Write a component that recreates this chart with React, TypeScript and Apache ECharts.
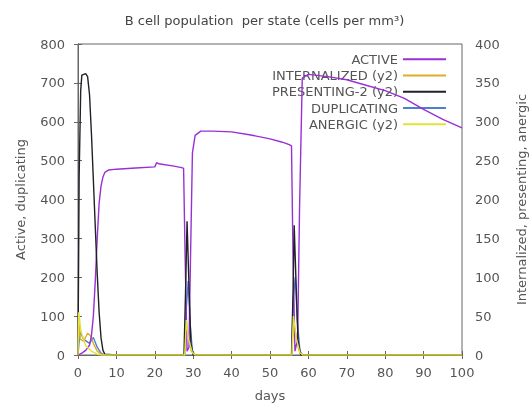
import React, { useEffect, useRef } from "react";
import * as echarts from "echarts";

const titleText = "B cell population  per state (cells per mm³)";
const xTicks = [0, 10, 20, 30, 40, 50, 60, 70, 80, 90, 100];

const activeDays = [0, 1, 2, 3, 3.5, 4, 4.5, 5, 5.5, 6, 6.5, 7, 8, 10, 15, 20, 20.5, 21, 25, 27, 27.5, 27.9, 28.4, 28.9, 29.3, 29.8, 30.5, 32, 35, 40, 45, 50, 53, 55, 55.6, 56, 56.5, 57.2, 57.7, 58.4, 60, 65, 70, 75, 80, 85, 90, 95, 100];
const activeVals = [0, 5, 12, 25, 50, 100, 190, 300, 390, 435, 458, 470, 476, 478, 481, 484, 495, 492, 486, 482, 480, 250, 10, 20, 250, 520, 565, 576, 576, 574, 566, 556, 548, 541, 538, 250, 10, 40, 380, 712, 722, 716, 708, 694, 680, 660, 632, 606, 584];

const internDays = [0, 0.2, 0.6, 1.5, 2.5, 3.2, 4, 5, 6, 7, 27.8, 28.2, 28.8, 29.5, 30.5, 55.7, 56.1, 56.7, 57.5, 58.5, 100];
const internVals = [0, 45, 20, 18, 28, 25, 15, 5, 1, 0, 0, 38, 25, 5, 0, 0, 42, 28, 6, 0, 0];

const presDays = [0, 0.3, 0.7, 1, 2, 2.5, 3, 3.5, 4, 4.5, 5, 5.5, 6, 6.5, 7, 10, 27.6, 28, 28.4, 28.9, 29.4, 30, 55.6, 56, 56.3, 56.8, 57.3, 58, 100];
const presVals = [0, 230, 340, 360, 362, 358, 335, 285, 225, 165, 105, 55, 22, 6, 1, 0, 0, 80, 172, 90, 15, 0, 0, 80, 167, 90, 18, 0, 0];

const dupDays = [0, 0.5, 1.5, 3, 4, 5, 6, 7, 27.8, 28.2, 28.7, 29.2, 29.8, 30.5, 55.7, 56.1, 56.6, 57.1, 57.8, 58.5, 100];
const dupVals = [0, 60, 40, 30, 45, 20, 5, 0, 0, 120, 190, 80, 10, 0, 0, 150, 200, 90, 10, 0, 0];

const anergDays = [0, 0.2, 0.8, 2, 3.5, 5, 6, 27.8, 28.2, 28.8, 29.8, 30.5, 55.7, 56.1, 56.8, 57.8, 58.5, 100];
const anergVals = [0, 55, 30, 12, 5, 1, 0, 0, 45, 20, 3, 0, 0, 50, 22, 3, 0, 0];

const legendNames = ["ACTIVE", "INTERNALIZED (y2)", "PRESENTING-2 (y2)", "DUPLICATING", "ANERGIC (y2)"];

const zip = (xs: number[], ys: number[]) => xs.map((x, i) => [x, ys[i]]);

const FONT = "DejaVu Sans";
const TXT = "#555";
const AX = "#666";

export default function App() {
  const ref = useRef<HTMLDivElement>(null);
  useEffect(() => {
    if (!ref.current) return;
    const chart = echarts.init(ref.current, null, { renderer: "svg" });
    const mk = (name: string, xs: number[], ys: number[], color: string, yAxisIndex: number, z: number) => ({
      name,
      type: "line",
      data: zip(xs, ys),
      yAxisIndex,
      symbol: "none",
      z,
      lineStyle: { color, width: 1.4 },
      itemStyle: { color },
    });
    chart.setOption({
      animation: false,
      textStyle: { fontFamily: FONT },
      title: {
        text: titleText,
        left: "center",
        top: 9,
        textStyle: { fontSize: 13, fontWeight: "normal", color: "#444", fontFamily: FONT },
      },
      grid: {
        left: 78,
        right: 67,
        top: 44,
        bottom: 53,
        show: true,
        borderColor: AX,
        borderWidth: 1,
        containLabel: false,
        outerBoundsMode: "none",
      },
      legend: {
        orient: "vertical",
        align: "right",
        right: 83,
        top: 51,
        padding: 0,
        icon: "rect",
        itemWidth: 43,
        itemHeight: 2,
        itemGap: 0,
        textStyle: { fontSize: 13, lineHeight: 16.3, color: TXT, fontFamily: FONT },
        data: legendNames,
      },
      xAxis: [
        {
          type: "value",
          min: 0,
          max: 100,
          interval: 10,
          name: "days",
          nameLocation: "middle",
          nameGap: 34,
          nameTextStyle: { fontSize: 13, color: TXT },
          axisLine: { show: true, lineStyle: { color: AX } },
          axisTick: { inside: true, length: 4, lineStyle: { color: AX } },
          axisLabel: { fontSize: 13, color: TXT, margin: 11 },
          splitLine: { show: false },
        },
        {
          type: "value",
          position: "top",
          min: 0,
          max: 100,
          interval: 10,
          axisLine: { show: false },
          axisTick: { inside: true, length: 4, lineStyle: { color: AX } },
          axisLabel: { show: false },
          splitLine: { show: false },
        },
      ],
      yAxis: [
        {
          type: "value",
          min: 0,
          max: 800,
          interval: 100,
          name: "Active, duplicating",
          nameLocation: "middle",
          nameRotate: 90,
          nameGap: 51,
          nameTextStyle: { fontSize: 13, color: TXT },
          axisLine: { show: true, lineStyle: { color: AX } },
          axisTick: { show: true, inside: true, length: 4, lineStyle: { color: AX } },
          axisLabel: { fontSize: 13, color: TXT, margin: 13 },
          splitLine: { show: false },
        },
        {
          type: "value",
          position: "right",
          min: 0,
          max: 400,
          interval: 50,
          name: "Internalized, presenting, anergic",
          nameLocation: "middle",
          nameRotate: 90,
          nameGap: 53,
          nameTextStyle: { fontSize: 13, color: TXT },
          axisLine: { show: true, lineStyle: { color: AX } },
          axisTick: { show: true, inside: true, length: 4, lineStyle: { color: AX } },
          axisLabel: { fontSize: 13, color: TXT, margin: 13 },
          splitLine: { show: false },
        },
      ],
      series: [
        mk("ACTIVE", activeDays, activeVals, "#9a2fd6", 0, 5),
        mk("INTERNALIZED (y2)", internDays, internVals, "#dcae2a", 1, 4),
        mk("PRESENTING-2 (y2)", presDays, presVals, "#202028", 1, 6),
        mk("DUPLICATING", dupDays, dupVals, "#4f7fd2", 0, 3),
        mk("ANERGIC (y2)", anergDays, anergVals, "#e2e23a", 1, 7),
      ],
    });
    return () => chart.dispose();
  }, []);
  return <div ref={ref} style={{ position: "fixed", left: 0, top: 0, width: 529, height: 408 }} />;
}
